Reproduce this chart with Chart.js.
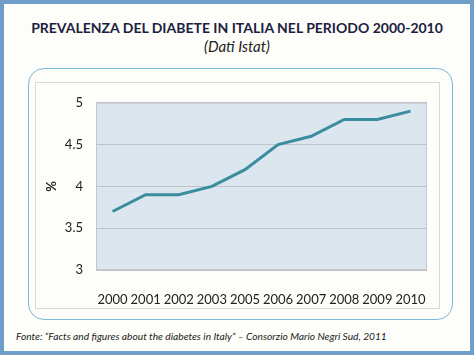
<!DOCTYPE html>
<html>
<head>
<meta charset="utf-8">
<script src="https://cdn.jsdelivr.net/npm/chart.js@4"></script>
<style>
  html, body { margin: 0; padding: 0; }
  body {
    width: 474px; height: 355px; position: relative; overflow: hidden;
    background: #fdfdf9; font-family: Lato, "Open Sans", sans-serif;
  }
  #frame {
    position: absolute; left: 0; top: 0; width: 466px; height: 347px;
    border: 4px solid #6f9ec9;
  }
  #title {
    position: absolute; left: 0; top: 19px; width: 474px; text-align: center;
    font-weight: bold; font-size: 14px; color: #1b2140;
  }
  #subtitle {
    position: absolute; left: 0; top: 37px; width: 474px; text-align: center;
    font-style: italic; font-size: 15px; color: #222;
  }
  #box {
    position: absolute; left: 28px; top: 68px; width: 423px; height: 250px;
    border: 1.5px solid #7cb9da; border-radius: 16px;
  }
  #inner {
    position: absolute; left: 35px; top: 82px; width: 405px; height: 227px;
    border: 1px solid #d8d8d8; box-sizing: border-box;
  }
  #wrap { position: absolute; left: 35px; top: 82px; width: 405px; height: 227px; }
  #source {
    position: absolute; left: 16px; top: 330px; font-style: italic; font-size: 10.2px; color: #222;
  }
</style>
</head>
<body>
<div id="frame"></div>
<div id="title">PREVALENZA DEL DIABETE IN ITALIA NEL PERIODO 2000-2010</div>
<div id="subtitle">(Dati Istat)</div>
<div id="box"></div>
<div id="inner"></div>
<div id="wrap"><canvas id="chart" width="405" height="227"></canvas></div>
<div id="source">Fonte: “Facts and figures about the diabetes in Italy” – Consorzio Mario Negri Sud, 2011</div>

<script>
// anni (il 2004 manca nel grafico originale)
const years = ["2000", "2001", "2002", "2003", "2005", "2006", "2007", "2008", "2009", "2010"];
const prevalence = [3.7, 3.9, 3.9, 4.0, 4.2, 4.5, 4.6, 4.8, 4.8, 4.9];
const yTicks = [3, 3.5, 4, 4.5, 5];

// fill the plot area light blue with a gray border
const plotBackground = {
    id: "plotBackground",
    beforeDraw(chart) {
        const { ctx, chartArea: a } = chart;
        ctx.save();
        ctx.fillStyle = "#dce6ee";
        ctx.fillRect(a.left, a.top, a.right - a.left, a.bottom - a.top);
        ctx.restore();
    },
    afterDatasetsDraw(chart) {
        const { ctx, chartArea: a } = chart;
        ctx.save();
        ctx.strokeStyle = "#c4c8cc";
        ctx.lineWidth = 1;
        ctx.strokeRect(a.left + 0.5, a.top + 0.5, a.right - a.left - 1, a.bottom - a.top - 1);
        ctx.restore();
    }
};

const canvas = document.getElementById("chart");
new Chart(canvas, {
    type: "line",
    data: {
        labels: years,
        datasets: [{
            data: prevalence,
            borderColor: "#3a8c9f",
            borderWidth: 3,
            pointRadius: 0,
            tension: 0
        }]
    },
    options: {
        responsive: false,
        animation: false,
        layout: { padding: { top: 11, right: 9, left: 0, bottom: 0 } },
        plugins: { legend: { display: false }, tooltip: { enabled: false } },
        scales: {
            x: {
                offset: true,
                grid: { display: false },
                border: { display: false },
                ticks: { color: "#222", font: { family: "Lato", size: 13 }, padding: 14, maxRotation: 0 },
                afterFit(scale) { scale.height = 39; }
            },
            y: {
                min: 3,
                max: 5,
                afterBuildTicks(scale) { scale.ticks = yTicks.map(v => ({ value: v })); },
                grid: { color: "#bfc3c7", drawTicks: false },
                border: { display: false },
                ticks: {
                    color: "#222", font: { family: "Lato", size: 13 }, padding: 13,
                    callback: v => String(v)
                },
                title: { display: true, text: "%", color: "#222", font: { family: "Lato", size: 13, weight: "bold" }, padding: { top: 9, bottom: 0 } },
                afterFit(scale) { scale.width = 61; }
            }
        }
    },
    plugins: [plotBackground]
});
</script>
</body>
</html>
